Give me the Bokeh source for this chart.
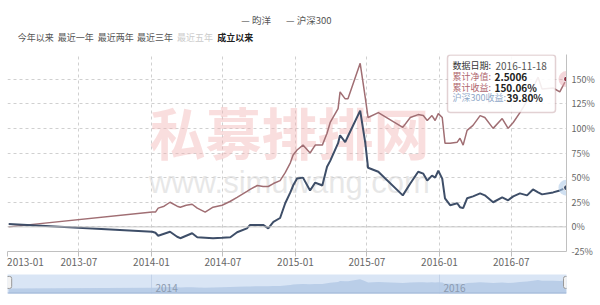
import pandas as pd
from bokeh.plotting import figure
from bokeh.layouts import column
from bokeh.models import (Range1d, FixedTicker, PrintfTickFormatter, Span, Label,
                          BoxAnnotation, Grid)
from bokeh.core.properties import value
from bokeh.embed import file_html
from bokeh.resources import INLINE

# ---------------- data ----------------
dates = ["2013-01-04", "2014-01-03", "2014-01-11", "2014-01-18", "2014-02-02", "2014-02-17",
         "2014-03-07", "2014-03-15", "2014-03-30", "2014-04-14", "2014-04-27", "2014-05-17",
         "2014-06-06", "2014-06-29", "2014-07-20", "2014-08-06", "2014-08-31", "2014-09-08",
         "2014-09-26", "2014-10-11", "2014-10-24", "2014-11-06", "2014-11-23", "2014-12-06",
         "2014-12-19", "2014-12-26", "2015-01-05", "2015-01-20", "2015-02-07", "2015-02-20",
         "2015-03-10", "2015-03-22", "2015-03-30", "2015-04-19", "2015-04-24", "2015-05-07",
         "2015-05-14", "2015-06-14", "2015-06-27", "2015-07-04", "2015-07-30", "2015-09-30",
         "2015-10-19", "2015-11-08", "2015-11-21", "2015-12-01", "2015-12-13", "2015-12-21",
         "2015-12-29", "2016-01-08", "2016-01-15", "2016-01-28", "2016-02-15", "2016-02-22",
         "2016-03-01", "2016-03-11", "2016-03-26", "2016-04-13", "2016-04-25", "2016-05-16",
         "2016-06-08", "2016-06-23", "2016-07-06", "2016-07-23", "2016-08-10", "2016-08-25",
         "2016-09-07", "2016-09-17", "2016-10-15", "2016-11-01", "2016-11-18"]

fund_pct = [0, 15, 15, 19, 21, 25,
            21, 20, 22, 23, 19, 15,
            20, 22, 26, 30, 36, 38,
            42, 41, 41, 44, 47, 55,
            65, 73, 78, 83, 75, 83,
            83, 95, 106, 120, 137, 130,
            130, 166, 131, 111, 116, 101,
            111, 114, 113, 108, 113, 108,
            115, 111, 85, 85, 86, 90,
            83, 98, 103, 113, 111, 100,
            110, 100, 106, 116, 128, 141,
            152, 140, 141, 137, 150.06]

hs300_pct = [3, -5, -6, -9, -7, -5,
             -10, -11.5, -9, -6.5, -10.5, -11,
             -11.5, -11, -10.5, -5.5, -1.5, 2,
             2, 2, -1.5, 5, 9, 24,
             35, 42, 49, 50, 37, 45,
             42, 61, 67, 85, 93, 86,
             92, 118, 85, 60, 56, 32,
             44, 56, 54, 47, 52, 50,
             57, 49, 29, 22, 24, 20,
             19, 29, 31, 34, 32, 25,
             30, 27, 31, 34, 32, 38,
             35, 33, 35, 37, 39.8]

series_names = ["昀洋", "沪深300"]
x_tick_labels = ["2013-01", "2013-07", "2014-01", "2014-07", "2015-01", "2015-07", "2016-01", "2016-07"]
y_ticks = [-25, 0, 25, 50, 75, 100, 125, 150, 175]
nav_tick_labels = ["2014", "2016"]
buttons = ["今年以来", "最近一年", "最近两年", "最近三年", "最近五年", "成立以来"]
tip_date = "2016-11-18"
tip_nav = "2.5006"
tip_ret = "150.06%"
tip_hs = "39.80%"

# ---------------- helpers ----------------
FONT = "Noto Sans CJK SC"
PINK = "#a06e73"
BLUE = "#3e4e68"
x = pd.to_datetime(dates)


def ms(ts):
    return pd.Timestamp(ts).value / 1e6


X0 = ms("2013-01-01")
X1 = ms(dates[-1])
Y0, Y1 = -25, 175
FL, FW, FT, FH = 7, 559, 54, 197   # main frame in page pixels
RB = 600 - FL - FW


def xd(px):
    return X0 + (px - FL) / FW * (X1 - X0)


def yd(py):
    return Y1 - (py - FT) / FH * (Y1 - Y0)


x_range = Range1d(X0, X1)

# ---------------- header (buttons + legend) ----------------
hdr = figure(width=600, height=50, x_range=Range1d(0, 600), y_range=Range1d(50, 0),
             toolbar_location=None, output_backend="svg", min_border=0,
             x_axis_location=None, y_axis_location=None, outline_line_color=None)
hdr.grid.visible = False

btn_x = [11, 54, 97, 139, 182, 225]
btn_col = ["#555555"] * 4 + ["#cccccc", "#222222"]
for i, b in enumerate(buttons):
    hdr.text(x=[btn_x[i]], y=[37], text=[b], text_font=value(FONT), text_font_size="9px",
             text_color=btn_col[i], text_baseline="middle",
             text_font_style="bold" if i == 5 else "normal")

leg_x = [251, 299]
for i, n in enumerate(series_names):
    hdr.text(x=[leg_x[i]], y=[19], text=["— " + n], text_font=value(FONT), text_font_size="9.5px",
             text_color="#555555", text_baseline="middle")

# ---------------- main chart ----------------
p = figure(frame_width=FW, frame_height=FH, x_range=x_range, y_range=Range1d(Y0, Y1),
           x_axis_type="datetime", y_axis_location="right",
           toolbar_location=None, output_backend="svg",
           min_border_left=FL, min_border_right=RB, min_border_top=FT - 50, min_border_bottom=19,
           outline_line_color=None)

xt = [ms(t + "-01") for t in x_tick_labels]
# the first label is justified to the right of its tick (as in the original)
label_pos = [xt[0] + 18 / FW * (X1 - X0)] + xt[1:]
p.xaxis.ticker = FixedTicker(ticks=label_pos, minor_ticks=xt)
p.xaxis.major_label_overrides = {t: s for t, s in zip(label_pos, x_tick_labels)}
p.xaxis.axis_line_color = "#c0c0c0"
p.xaxis.major_tick_line_color = None
p.xaxis.major_tick_out = 5
p.xaxis.major_tick_in = 0
p.xaxis.minor_tick_line_color = "#c0c0c0"
p.xaxis.minor_tick_out = 5
p.xaxis.minor_tick_in = 0
p.xaxis.major_label_standoff = 1
p.xaxis.major_label_text_font = FONT
p.xaxis.major_label_text_font_size = "10px"
p.xaxis.major_label_text_color = "#666666"

p.yaxis.ticker = FixedTicker(ticks=y_ticks[:-1], minor_ticks=y_ticks[-1:])
p.yaxis.formatter = PrintfTickFormatter(format="%d%%")
p.yaxis.axis_line_color = "#c0c0c0"
p.yaxis.major_tick_line_color = None
p.yaxis.minor_tick_line_color = None
p.yaxis.major_tick_out = 0
p.yaxis.major_tick_in = 0
p.yaxis.minor_tick_out = 0
p.yaxis.minor_tick_in = 0
p.yaxis.major_label_standoff = 5
p.yaxis.major_label_text_font = FONT
p.yaxis.major_label_text_font_size = "9px"
p.yaxis.major_label_text_color = "#666666"

p.xgrid.grid_line_color = None
for g in (p.xgrid, p.ygrid):
    g.grid_line_dash = "3 3"
    g.minor_grid_line_color = "#d0d0d0"
    g.minor_grid_line_dash = "3 3"
p.ygrid.grid_line_color = "#d0d0d0"
p.add_layout(Span(location=0, dimension="width", line_color="#c8c8c8", line_width=1))

# watermark
p.text(x=[xd(289)], y=[yd(130)], text=["私募排排网"], text_font=value(FONT), text_font_size="56px",
       text_font_style="bold", text_color="#f0b0b0", text_alpha=0.42, text_align="center",
       text_baseline="middle")
p.text(x=[xd(289)], y=[yd(182)], text=["www.simuwang.com"], text_font=value("Liberation Sans"),
       text_font_size="31px", text_color="#d8d8d8", text_alpha=0.6, text_align="center",
       text_baseline="middle")

p.line(x, fund_pct, line_color=PINK, line_width=1.5)
p.line(x, hs300_pct, line_color=BLUE, line_width=2)

# hover markers at last point
p.scatter([x[-1]], [fund_pct[-1]], size=16, fill_color="#e7a3ad", fill_alpha=0.45, line_color=None)
p.scatter([x[-1]], [fund_pct[-1]], size=6, fill_color="#8f2f42", line_color="white", line_width=1)
p.scatter([x[-1]], [hs300_pct[-1]], size=16, fill_color="#a9c6e6", fill_alpha=0.55, line_color=None)
p.scatter([x[-1]], [hs300_pct[-1]], size=6, fill_color=BLUE, line_color="white", line_width=1)

# tooltip
p.add_layout(BoxAnnotation(left=xd(447), right=xd(555), top=yd(54.5), bottom=yd(112),
                           fill_color="white", fill_alpha=0.88, line_color="#a0676c",
                           line_width=1.5, border_radius=3))
rows = [("数据日期: ", "#333333", tip_date, "normal", 65, 495),
        ("累计净值: ", "#b0666e", tip_nav, "bold", 76, 494),
        ("累计收益: ", "#b0666e", tip_ret, "bold", 86.5, 494),
        ("沪深300收益: ", "#8fa8c8", tip_hs, "bold", 97, 506)]
for lab, col, val, sty, py, vx in rows:
    p.add_layout(Label(x=xd(452), y=yd(py), text=lab, text_font=FONT, text_font_size="9px",
                       text_color=col, text_baseline="middle"))
    p.add_layout(Label(x=xd(vx), y=yd(py), text=val, text_font=FONT, text_font_size="10px",
                       text_color="#222222" if sty == "bold" else "#555555",
                       text_font_style=sty, text_baseline="middle"))

# ---------------- navigator ----------------
nav = figure(frame_width=FW, frame_height=19, x_range=x_range, y_range=Range1d(-91, 254),
             toolbar_location=None, output_backend="svg",
             min_border_left=FL, min_border_right=RB, min_border_top=4, min_border_bottom=12,
             x_axis_location=None, y_axis_location=None, outline_line_color=None,
             background_fill_color="#d9e5f5")
nav.grid.visible = False
nt = [ms(t + "-01-01") for t in nav_tick_labels]
nav.add_layout(Grid(dimension=0, ticker=FixedTicker(ticks=nt), grid_line_color="#c3d2e8"))
nav.varea(x=x, y1=-91, y2=fund_pct, fill_color="#b6cbe7", fill_alpha=0.9)
nav.add_layout(Span(location=-91, dimension="width", line_color="#9fb6d6", line_width=2))
nav.text(x=nt, y=[0, 0], text=nav_tick_labels, text_font=value(FONT), text_font_size="10px",
         text_color="#8c9bb0", x_offset=4, text_baseline="middle")
nav.rect(x=[x[0], x[-1]], y=[110, 110], width=6, height=12, width_units="screen",
         height_units="screen", fill_color="#f2f2f2", line_color="#999999", line_width=1,
         border_radius=2)

layout = column(hdr, p, nav, spacing=0)
open("out.html", "w").write(file_html(layout, INLINE))
